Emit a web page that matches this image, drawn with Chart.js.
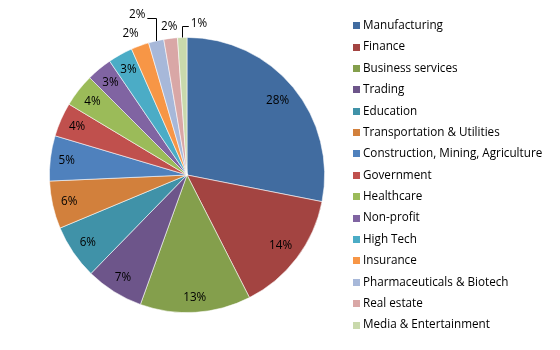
<!DOCTYPE html>
<html><head><meta charset="utf-8">
<script src="https://cdn.jsdelivr.net/npm/chart.js@4/dist/chart.umd.min.js"></script>
<style>html,body{margin:0;padding:0;background:#fff}</style>
</head><body>
<canvas id="c" width="560" height="350"></canvas>
<script>
const categories = ['Manufacturing','Finance','Business services','Trading','Education','Transportation & Utilities','Construction, Mining, Agriculture','Government','Healthcare','Non-profit','High Tech','Insurance','Pharmaceuticals & Biotech','Real estate','Media & Entertainment'];
const shares = [28.1, 14.4, 13.0, 6.8, 6.4, 5.6, 5.3, 4.0, 3.9, 3.0, 2.9, 2.1, 1.8, 1.6, 1.1];
const sliceColors = ['#416CA0','#A34441','#849F4C','#6D558A','#4092A8','#D2803C','#4F81BD','#C0504D','#9BBB59','#8064A2','#4BACC6','#F79646','#A7B8D9','#D9A7A6','#C9D9AC'];

const FONT = '11.7px "Open Sans", "Noto Sans", sans-serif';

const pieLabels = {
  id: 'pieLabels',
  afterDatasetsDraw(chart, args, opts) {
    const ctx = chart.ctx;
    const meta = chart.getDatasetMeta(0);
    const vals = chart.data.datasets[0].data;
    const total = vals.reduce((a, b) => a + b, 0);
    ctx.save();
    ctx.font = FONT;
    ctx.fillStyle = '#000';
    ctx.strokeStyle = '#000';
    ctx.lineWidth = 1;
    ctx.textAlign = 'center';
    ctx.textBaseline = 'middle';
    meta.data.forEach((arc, i) => {
      const p = arc.getProps(['x','y','startAngle','endAngle','outerRadius'], true);
      const mid = (p.startAngle + p.endAngle) / 2;
      const txt = Math.round(vals[i] / total * 100) + '%';
      const w = ctx.measureText(txt).width;
      const c = Math.cos(mid), s = Math.sin(mid);
      const o = opts.outside[i];
      if (!o) {
        const d = p.outerRadius * 0.945 - (w / 2 * Math.abs(c) + 6 * Math.abs(s));
        ctx.fillText(txt, p.x + c * d, p.y + s * d);
      } else {
        const a = mid + o.shift * Math.PI / 180;
        const lx = p.x + Math.cos(a) * o.dist, ly = p.y + Math.sin(a) * o.dist;
        ctx.fillText(txt, lx, ly);
        if (o.leader) {
          const px = Math.round(p.x + c * p.outerRadius) + 0.5, py = p.y + s * p.outerRadius;
          const ey = Math.round(ly + 3) + 0.5;
          const side = lx < px ? 1 : -1;
          const ex = lx + side * (w / 2 + 2);
          ctx.beginPath();
          ctx.moveTo(px, py);
          ctx.lineTo(px, ey);
          ctx.lineTo(ex, ey);
          ctx.stroke();
        }
      }
    });
    ctx.restore();
  }
};

const sideLegend = {
  id: 'sideLegend',
  afterDraw(chart, args, opts) {
    const ctx = chart.ctx;
    const cols = chart.data.datasets[0].backgroundColor;
    ctx.save();
    ctx.font = FONT;
    ctx.textAlign = 'left';
    ctx.textBaseline = 'middle';
    chart.data.labels.forEach((lab, i) => {
      const cy = opts.top + i * opts.step;
      ctx.fillStyle = cols[i];
      ctx.fillRect(opts.x, Math.round(cy - opts.box / 2), opts.box, opts.box);
      ctx.fillStyle = '#000';
      ctx.fillText(lab, opts.x + opts.box + 3, cy);
    });
    ctx.restore();
  }
};

new Chart(document.getElementById('c'), {
  type: 'pie',
  data: {
    labels: categories,
    datasets: [{
      data: shares,
      backgroundColor: sliceColors,
      borderColor: 'rgba(255,255,255,0.7)',
      borderWidth: 0.8
    }]
  },
  options: {
    responsive: false,
    animation: false,
    devicePixelRatio: 1,
    layout: { padding: { left: 49, right: 235, top: 37, bottom: 37 } },
    plugins: {
      legend: { display: false },
      tooltip: { enabled: false },
      pieLabels: {
        outside: {
          11: { dist: 152, shift: -1.8, leader: false },
          12: { dist: 168, shift: -4.3, leader: true },
          13: { dist: 149, shift: 0, leader: false },
          14: { dist: 152, shift: 6.5, leader: true }
        }
      },
      sideLegend: { x: 353, top: 25.7, step: 21.38, box: 7 }
    }
  },
  plugins: [pieLabels, sideLegend]
});
</script>
</body></html>
